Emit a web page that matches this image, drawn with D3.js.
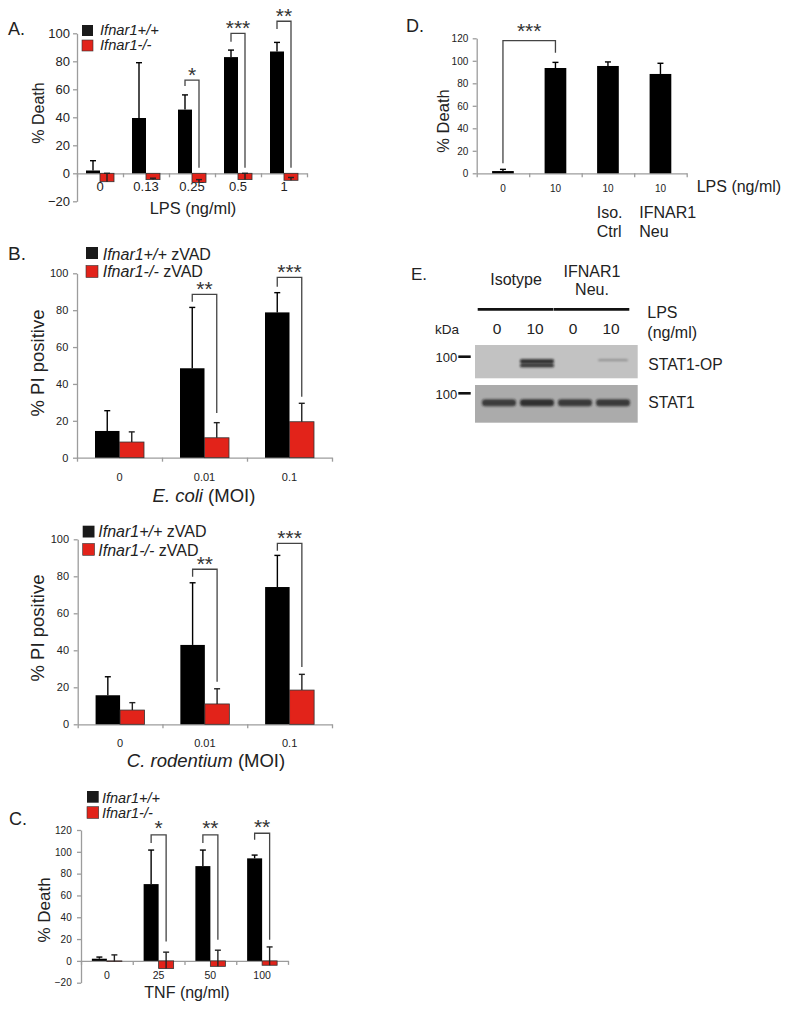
<!DOCTYPE html>
<html>
<head>
<meta charset="utf-8">
<script src="https://cdn.jsdelivr.net/npm/d3@7"></script>
<style>
  body { margin: 0; background: #fff; }
  svg { display: block; font-family: 'Liberation Sans', Arial, Helvetica, sans-serif; }
</style>
</head>
<body>
<svg></svg>
<script>
// ---- data ----

// A. LPS dose, % death
const lpsDoses = ['0', '0.13', '0.25', '0.5', '1'];
const lpsWT = [2, 39.5, 45.5, 83, 87];
const lpsWTErr = [7, 39.5, 10.5, 5, 6.5];
const lpsKO = [-6, -4.5, -6.5, -4.5, -5];
const lpsKOErr = [6, 1, 2, 4.5, 2];
const lpsSig = [
  { cat: 2, sig: '*', top: 66.6, left: 62.4, right: 4 },
  { cat: 3, sig: '***', top: 100, left: 94, right: 4 },
  { cat: 4, sig: '**', top: 108.6, left: 103, right: 4 }
];

// B. E. coli / C. rodentium, % PI positive
const moiLevels = ['0', '0.01', '0.1'];
const ecoliWT = [14.5, 48.5, 78.8];
const ecoliWTErr = [11, 33, 10.7];
const ecoliKO = [8.5, 10.8, 19.5];
const ecoliKOErr = [5.5, 8.2, 10];
const ecoliSig = [
  { cat: 1, sig: '**', top: 88.6, left: 84.6, right: 24.2 },
  { cat: 2, sig: '***', top: 97.8, left: 92.7, right: 33 }
];
const crodWT = [15.7, 42.9, 74.2];
const crodWTErr = [10, 33.6, 17.1];
const crodKO = [7.7, 11, 18.5];
const crodKOErr = [4, 8.2, 8.5];
const crodSig = [
  { cat: 1, sig: '**', top: 83.8, left: 79.8, right: 23 },
  { cat: 2, sig: '***', top: 97.8, left: 93.8, right: 31 }
];

// C. TNF dose, % death
const tnfDoses = ['0', '25', '50', '100'];
const tnfWT = [2, 70.4, 86.9, 94];
const tnfWTErr = [1.5, 31.2, 14.7, 3];
const tnfKO = [-0.5, -7, -5, -4];
const tnfKOErr = [6, 15, 14.8, 16.8];
const tnfSig = [
  { cat: 1, sig: '*', top: 115.6, left: 108, right: 17.7 },
  { cat: 2, sig: '**', top: 115.6, left: 108, right: 19.3 },
  { cat: 3, sig: '**', top: 117, left: 111, right: 19.3 }
];

// D. antibody neutralisation, % death
const dLps = ['0', '10', '10', '10'];
const dVals = [2, 93.6, 95.4, 88.3];
const dErr = [1.5, 5, 3.6, 9.5];
const dTreat = [[], [], ['Iso.', 'Ctrl'], ['IFNAR1', 'Neu']];
const dSig = [{ cat: 0, to: 1, sig: '***', top: 117.9, left: 8.9, right: 107.2 }];

// E. western blot
const blotGroups = [['Isotype'], ['IFNAR1', 'Neu.']];
const blotLps = ['0', '10', '0', '10'];
const stat1opUpper = [0, 0.9, 0, 0.3];
const stat1opLower = [0, 0.85, 0, 0];
const stat1Band = [0.8, 0.88, 0.82, 0.82];

// ---- setup ----
const red = '#e2231a';
const axisGray = '#9c9c9c';
const ink = '#222';

let svg = d3.select('svg').attr('width', 792).attr('height', 1014);
svg.append('rect').attr('width', 792).attr('height', 1014).attr('fill', '#fff');

let defs = svg.append('defs');
defs.append('filter').attr('id', 'blur').attr('x', '-20%').attr('y', '-100%')
  .attr('width', '140%').attr('height', '300%')
  .append('feGaussianBlur').attr('stdDeviation', 0.9);

function translate(x, y) {
  return 'translate(' + x + ',' + y + ')';
}

function text(g, x, y, str, size, opts) {
  opts = opts || {};
  return g.append('text').attr('x', x).attr('y', y).text(str)
    .attr('font-size', size).attr('fill', opts.fill || ink)
    .attr('text-anchor', opts.anchor || 'start')
    .attr('font-style', opts.italic ? 'italic' : null);
}

function drawBars(o) {
  let g = svg.append('g');
  let y = d3.scaleLinear().domain(o.yDomain).range(o.yRange);
  let x = d3.scaleBand().domain(d3.range(o.cats.length)).range([o.x0, o.x1]);
  let edge = d3.scaleLinear().domain([0, o.cats.length]).range([o.x0, o.x1]);
  let cx = (i, s) => x(i) + x.bandwidth() / 2 + o.offsets[s];

  // y axis
  let gy = g.append('g').attr('transform', translate(o.x0, 0))
    .call(d3.axisLeft(y)
      .tickValues(d3.range(o.yDomain[0], o.yDomain[1] + 1, o.yStep))
      .tickSize(4).tickSizeOuter(0).tickPadding(o.yPad));
  // x axis along zero, ticks between groups
  let gx = g.append('g').attr('transform', translate(0, y(0)))
    .call(d3.axisBottom(edge).tickValues(d3.range(o.cats.length + 1))
      .tickFormat('').tickSize(4).tickSizeOuter(0));
  [gy, gx].forEach(a => a.selectAll('path, line').attr('stroke', axisGray).attr('stroke-width', 1.3));
  gy.selectAll('text').attr('font-size', o.tickFont).attr('fill', ink);

  // category labels
  let gl = g.append('g').attr('transform', translate(0, y(0)))
    .call(d3.axisBottom(x).tickSize(0).tickPadding(o.catPad).tickFormat(i => o.cats[i]));
  gl.select('.domain').remove();
  gl.selectAll('text').attr('font-size', o.catFont).attr('fill', ink);
  gl.attr('font-family', null);
  gy.attr('font-family', null);

  // bars and error bars
  o.series.forEach((s, si) => {
    g.append('g').selectAll('rect').data(s.vals).join('rect')
      .attr('x', (d, i) => cx(i, si) - o.barW / 2)
      .attr('y', d => Math.min(y(d), y(0)))
      .attr('width', o.barW)
      .attr('height', d => Math.abs(y(d) - y(0)))
      .attr('fill', s.fill)
      .attr('stroke', s.stroke || 'none')
      .attr('stroke-width', 0.8);
    let eg = g.append('g').attr('stroke', s.errColor).attr('stroke-width', 1.4);
    eg.selectAll('line.v').data(s.vals).join('line').attr('class', 'v')
      .attr('x1', (d, i) => cx(i, si)).attr('x2', (d, i) => cx(i, si))
      .attr('y1', d => y(d)).attr('y2', (d, i) => y(d + s.errs[i]));
    eg.selectAll('line.c').data(s.vals).join('line').attr('class', 'c')
      .attr('x1', (d, i) => cx(i, si) - 3).attr('x2', (d, i) => cx(i, si) + 3)
      .attr('y1', (d, i) => y(d + s.errs[i])).attr('y2', (d, i) => y(d + s.errs[i]));
  });

  // significance brackets
  let bg = g.append('g');
  o.sig.forEach(b => {
    let lx = cx(b.cat, 0);
    let rx = b.to != null ? cx(b.to, 0) : cx(b.cat, 1);
    bg.append('path')
      .attr('d', 'M' + lx + ',' + y(b.left) + 'V' + y(b.top) + 'H' + rx + 'V' + y(b.right))
      .attr('fill', 'none').attr('stroke', '#444').attr('stroke-width', 1.3);
    text(bg, (lx + rx) / 2, y(b.top) + o.starDy, b.sig, 21, { anchor: 'middle', fill: '#333' });
  });

  return { g: g, x: x, y: y };
}

function legend(items, x, ys, size, textX, baselines, fs) {
  let g = svg.append('g');
  items.forEach((it, i) => {
    g.append('rect').attr('x', x).attr('y', ys[i]).attr('width', size).attr('height', size)
      .attr('fill', it.color).attr('stroke', it.color === red ? '#333' : 'none').attr('stroke-width', 0.6);
    let t = g.append('text').attr('x', textX).attr('y', baselines[i]).attr('font-size', fs).attr('fill', ink);
    t.append('tspan').attr('font-style', 'italic').text(it.name);
    if (it.extra) t.append('tspan').text(it.extra);
  });
}

function yTitle(x, y, str, fs) {
  svg.append('text').attr('transform', translate(x, y) + ' rotate(-90)')
    .attr('text-anchor', 'middle').attr('dominant-baseline', 'central')
    .attr('font-size', fs).attr('fill', ink).text(str);
}

// ---- Panel A ----
text(svg, 8, 35, 'A.', 18);
drawBars({
  cats: lpsDoses, x0: 77, x1: 307, yDomain: [-20, 100], yRange: [201.3, 33.3], yStep: 20,
  yPad: 3, tickFont: 13, catFont: 13, catPad: 8.5, barW: 14, offsets: [-7, 7], starDy: 1.5,
  series: [
    { vals: lpsWT, errs: lpsWTErr, fill: '#000', errColor: '#000' },
    { vals: lpsKO, errs: lpsKOErr, fill: red, stroke: '#333', errColor: '#222' }
  ],
  sig: lpsSig
});
legend([{ name: 'Ifnar1+/+', color: '#1a1a1a' }, { name: 'Ifnar1-/-', color: red }],
  82, [25, 40], 11, 100, [35, 50], 14.7);
yTitle(38, 113, '% Death', 16);
text(svg, 193, 213.5, 'LPS (ng/ml)', 16.4, { anchor: 'middle' });

// ---- Panel B (E. coli) ----
text(svg, 8, 260, 'B.', 19);
drawBars({
  cats: moiLevels, x0: 77, x1: 332, yDomain: [0, 100], yRange: [457.7, 273.3], yStep: 20,
  yPad: 4.7, tickFont: 11, catFont: 11, catPad: 15.2, barW: 24.5, offsets: [-12.25, 12.25], starDy: 1.5,
  series: [
    { vals: ecoliWT, errs: ecoliWTErr, fill: '#000', errColor: '#000' },
    { vals: ecoliKO, errs: ecoliKOErr, fill: red, stroke: '#333', errColor: '#222' }
  ],
  sig: ecoliSig
});
legend([{ name: 'Ifnar1+/+', extra: ' zVAD', color: '#1a1a1a' }, { name: 'Ifnar1-/-', extra: ' zVAD', color: red }],
  86, [247, 265.5], 12, 102.7, [259.5, 277], 16);
yTitle(37, 363, '% PI positive', 18.5);
let ecoliT = svg.append('text').attr('x', 204).attr('y', 502).attr('text-anchor', 'middle')
  .attr('font-size', 18.5).attr('fill', ink);
ecoliT.append('tspan').attr('font-style', 'italic').text('E. coli');
ecoliT.append('tspan').text(' (MOI)');

// ---- Panel B (C. rodentium) ----
drawBars({
  cats: moiLevels, x0: 77.7, x1: 332, yDomain: [0, 100], yRange: [724.3, 539.3], yStep: 20,
  yPad: 4.7, tickFont: 11, catFont: 11, catPad: 14.6, barW: 24.5, offsets: [-12.25, 12.25], starDy: 1.5,
  series: [
    { vals: crodWT, errs: crodWTErr, fill: '#000', errColor: '#000' },
    { vals: crodKO, errs: crodKOErr, fill: red, stroke: '#333', errColor: '#222' }
  ],
  sig: crodSig
});
legend([{ name: 'Ifnar1+/+', extra: ' zVAD', color: '#1a1a1a' }, { name: 'Ifnar1-/-', extra: ' zVAD', color: red }],
  82.7, [525.7, 543.5], 11.8, 98.3, [537, 555.5], 16);
yTitle(37, 628, '% PI positive', 18.5);
let crodT = svg.append('text').attr('x', 206).attr('y', 767).attr('text-anchor', 'middle')
  .attr('font-size', 18.5).attr('fill', ink);
crodT.append('tspan').attr('font-style', 'italic').text('C. rodentium');
crodT.append('tspan').text(' (MOI)');

// ---- Panel C ----
text(svg, 9, 825, 'C.', 18);
drawBars({
  cats: tnfDoses, x0: 81, x1: 288, yDomain: [-20, 120], yRange: [982.7, 830], yStep: 20,
  yPad: 5.3, tickFont: 10, catFont: 10.5, catPad: 10.2, barW: 15, offsets: [-7.5, 7.5], starDy: 0.5,
  series: [
    { vals: tnfWT, errs: tnfWTErr, fill: '#000', errColor: '#000' },
    { vals: tnfKO, errs: tnfKOErr, fill: red, stroke: '#333', errColor: '#222' }
  ],
  sig: tnfSig
});
legend([{ name: 'Ifnar1+/+', color: '#1a1a1a' }, { name: 'Ifnar1-/-', color: red }],
  87, [791, 806.7], 11.7, 102, [803, 818], 14.5);
yTitle(44, 910, '% Death', 17);
text(svg, 187, 998, 'TNF (ng/ml)', 16, { anchor: 'middle' });

// ---- Panel D ----
text(svg, 406, 31.7, 'D.', 18);
drawBars({
  cats: dLps, x0: 476.7, x1: 686.7, yDomain: [0, 120], yRange: [173.3, 38.3], yStep: 20,
  yPad: 4.4, tickFont: 10, catFont: 10, catPad: 11.6, barW: 21.7, offsets: [0], starDy: -3,
  series: [
    { vals: dVals, errs: dErr, fill: '#000', errColor: '#000' }
  ],
  sig: dSig
});
yTitle(443, 121, '% Death', 16.5);
text(svg, 696.7, 192, 'LPS (ng/ml)', 16);
let treatX = [0, 0, 596.7, 639.3];
dTreat.forEach((lines, i) => {
  lines.forEach((s, k) => text(svg, treatX[i], 218 + k * 19, s, 16));
});

// ---- Panel E: western blot ----
text(svg, 411, 280, 'E.', 17);
let lane = d3.scaleBand().domain(d3.range(blotLps.length)).range([480, 632]);
let laneC = i => lane(i) + lane.bandwidth() / 2;
let eg = svg.append('g');

blotGroups.forEach((lines, gi) => {
  let left = lane(gi * 2), right = lane(gi * 2 + 1) + lane.bandwidth();
  let mid = (left + right) / 2 - 2;
  if (lines.length === 1) {
    text(eg, mid, 285, lines[0], 16, { anchor: 'middle' });
  } else {
    text(eg, mid, 277.3, lines[0], 16, { anchor: 'middle' });
    text(eg, mid, 295, lines[1], 16, { anchor: 'middle' });
  }
  eg.append('line').attr('x1', left - 2.3).attr('x2', right - 2.7)
    .attr('y1', 309.3).attr('y2', 309.3).attr('stroke', '#111').attr('stroke-width', 2.7);
});
text(eg, 647.3, 318.3, 'LPS', 16);
text(eg, 647.3, 338, '(ng/ml)', 16);
text(eg, 435, 334, 'kDa', 13.5);
blotLps.forEach((s, i) => text(eg, laneC(i) - 2, 334.3, s, 15.5, { anchor: 'middle' }));

// blot strips
let strips = [
  { y: 345, h: 33.3, bg: '#c2c2c2', label: 'STAT1-OP', labelY: 369.5, markY: 356.7, markLabelY: 361.7 },
  { y: 385, h: 37.7, bg: '#ababab', label: 'STAT1', labelY: 408, markY: 393.3, markLabelY: 398.5 }
];
strips.forEach(st => {
  eg.append('rect').attr('x', 475).attr('y', st.y).attr('width', 162.7).attr('height', st.h).attr('fill', st.bg);
  text(eg, 648.3, st.labelY, st.label, 15.7);
  text(eg, 457.3, st.markLabelY, '100', 13, { anchor: 'end' });
  eg.append('rect').attr('x', 458.3).attr('y', st.markY - 1.3).attr('width', 12.4).attr('height', 2.6).attr('fill', '#111');
});

let bands = eg.append('g').attr('filter', 'url(#blur)');
bands.selectAll('rect.up').data(stat1opUpper).join('rect').attr('class', 'up')
  .attr('x', (d, i) => laneC(i) - (i === 3 ? 15 : 17)).attr('width', (d, i) => i === 3 ? 30 : 34)
  .attr('y', 359.3).attr('height', (d, i) => i === 3 ? 1.8 : 3.8)
  .attr('rx', 1.5).attr('fill', '#151515').attr('opacity', d => d);
bands.selectAll('rect.lo').data(stat1opLower).join('rect').attr('class', 'lo')
  .attr('x', (d, i) => laneC(i) - 17).attr('width', 34)
  .attr('y', 363.8).attr('height', 3.4)
  .attr('rx', 1.5).attr('fill', '#151515').attr('opacity', d => d);
bands.selectAll('rect.s1').data(stat1Band).join('rect').attr('class', 's1')
  .attr('x', (d, i) => laneC(i) - 17).attr('width', 34)
  .attr('y', 399.2).attr('height', 7)
  .attr('rx', 3).attr('fill', '#1e1e1e').attr('opacity', d => d);
</script>
</body>
</html>
